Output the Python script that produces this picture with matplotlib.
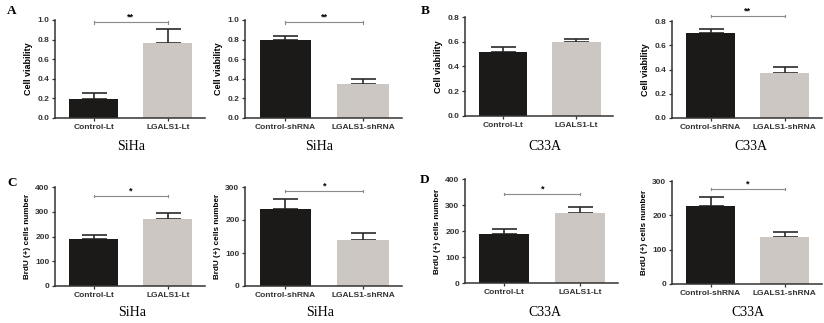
import matplotlib
matplotlib.use('Agg')
import matplotlib.pyplot as plt
import numpy as np

# data (mean, upper error)
groups_lt = ['Control-Lt', 'LGALS1-Lt']
groups_sh = ['Control-shRNA', 'LGALS1-shRNA']

via_siha_lt = [0.19, 0.77]
via_siha_lt_err = [0.07, 0.135]
via_siha_sh = [0.80, 0.35]
via_siha_sh_err = [0.035, 0.05]
via_c33a_lt = [0.515, 0.60]
via_c33a_lt_err = [0.045, 0.025]
via_c33a_sh = [0.70, 0.375]
via_c33a_sh_err = [0.03, 0.045]

brdu_siha_lt = [190, 272]
brdu_siha_lt_err = [17, 21]
brdu_siha_sh = [232, 140]
brdu_siha_sh_err = [33, 20]
brdu_c33a_lt = [190, 270]
brdu_c33a_lt_err = [18, 23]
brdu_c33a_sh = [228, 138]
brdu_c33a_sh_err = [24, 14]

bar_colors = ['#1b1a18', '#cdc7c4']

W, H = 824, 323
fig = plt.figure(figsize=(W / 100, H / 100), dpi=100)

def axbox(x0, x1, ytop, ybot):
    return [x0 / W, 1 - ybot / H, (x1 - x0) / W, (ybot - ytop) / H]

def panel(box, labels, vals, errs, ymax, yticks, ylabel, ylsize, cell, cell_xy,
          star=None, star_y=None):
    ax = fig.add_axes(axbox(*box))
    x = np.arange(2)
    ax.bar(x, vals, width=0.66, color=bar_colors, zorder=2)
    ax.errorbar(x, vals, yerr=[[0, 0], errs], fmt='none', ecolor='#2a2a2a',
                elinewidth=1.2, capsize=9, capthick=1.2, zorder=1)
    ax.set_xlim(-0.52, 1.5)
    ax.set_ylim(0, ymax)
    ax.set_yticks(yticks)
    ax.set_xticks(x)
    ax.set_xticklabels(labels, fontsize=6, fontweight='bold', family='Liberation Sans')
    ax.set_yticklabels([('%g' % t) if isinstance(t, int) else ('%.1f' % t) for t in yticks],
                       fontsize=6, fontweight='bold', family='Liberation Sans')
    ax.set_ylabel(ylabel, fontsize=ylsize, fontweight='bold', family='Liberation Sans', labelpad=3)
    for s in ['top', 'right']:
        ax.spines[s].set_visible(False)
    for s in ['left', 'bottom']:
        ax.spines[s].set_linewidth(1.1)
        ax.spines[s].set_color('#333333')
    ax.tick_params(axis='both', length=2.5, width=0.9, pad=1.5, colors='#333333')
    fig.text(cell_xy[0] / W, 1 - cell_xy[1] / H, cell, fontsize=10,
             family='Liberation Serif', ha='center', va='center')
    if star:
        c = '#8a8a8a'
        ax.plot([0, 1], [star_y, star_y], color=c, lw=0.8, clip_on=False)
        ax.plot([0, 0], [star_y - ymax * 0.012, star_y + ymax * 0.012], color=c, lw=0.8, clip_on=False)
        ax.plot([1, 1], [star_y - ymax * 0.012, star_y + ymax * 0.012], color=c, lw=0.8, clip_on=False)
        ax.text(0.5, star_y + ymax * 0.005, star, ha='center', va='bottom', fontsize=6.5,
                fontweight='bold', family='Liberation Sans', clip_on=False)
    return ax

vt = [0.0, 0.2, 0.4, 0.6, 0.8, 1.0]
vt8 = [0.0, 0.2, 0.4, 0.6, 0.8]
bt4 = [0, 100, 200, 300, 400]
bt3 = [0, 100, 200, 300]

panel((55, 205, 20, 118), groups_lt, via_siha_lt, via_siha_lt_err, 1.0, vt,
      'Cell viability', 6.5, 'SiHa', (131, 147), '**', 0.975)
panel((245, 402, 20, 118), groups_sh, via_siha_sh, via_siha_sh_err, 1.0, vt,
      'Cell viability', 6.5, 'SiHa', (319, 147), '**', 0.975)
panel((465, 613, 17, 116), groups_lt, via_c33a_lt, via_c33a_lt_err, 0.8, vt8,
      'Cell viability', 6.5, 'C33A', (545, 147))
panel((672, 822, 21, 118), groups_sh, via_c33a_sh, via_c33a_sh_err, 0.8, vt8,
      'Cell viability', 6.5, 'C33A', (751, 147), '**', 0.84)

panel((55, 205, 187, 286), groups_lt, brdu_siha_lt, brdu_siha_lt_err, 400, bt4,
      'BrdU (+) cells number', 5.9, 'SiHa', (132, 312), '*', 363)
panel((245, 402, 187, 286), groups_sh, brdu_siha_sh, brdu_siha_sh_err, 300, bt3,
      'BrdU (+) cells number', 5.9, 'SiHa', (320, 313), '*', 288)
panel((465, 618, 179, 283), groups_lt, brdu_c33a_lt, brdu_c33a_lt_err, 400, bt4,
      'BrdU (+) cells number', 5.9, 'C33A', (545, 313), '*', 342)
panel((672, 822, 181, 284), groups_sh, brdu_c33a_sh, brdu_c33a_sh_err, 300, bt3,
      'BrdU (+) cells number', 5.9, 'C33A', (748, 312), '*', 277)

for letter, px, py in [('A', 12, 11), ('B', 425, 11), ('C', 12, 183), ('D', 425, 180)]:
    fig.text(px / W, 1 - py / H, letter, fontsize=9.5, fontweight='bold',
             family='Liberation Serif', ha='center', va='center')

fig.savefig('out.png', dpi=100)
